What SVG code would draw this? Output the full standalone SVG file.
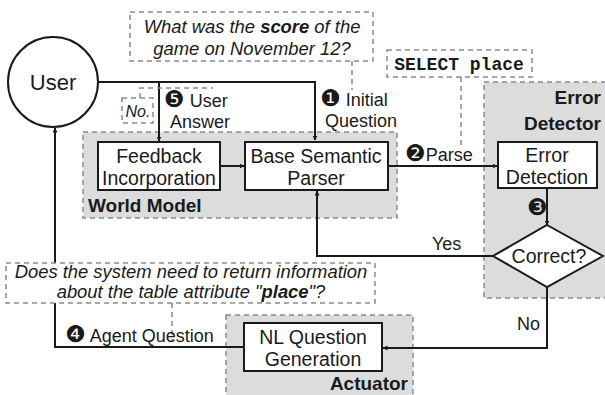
<svg xmlns="http://www.w3.org/2000/svg" width="605" height="395" viewBox="0 0 605 395">
<defs>
<marker id="ah" viewBox="0 0 10 10" refX="9" refY="5" markerWidth="5" markerHeight="5" orient="auto" markerUnits="userSpaceOnUse">
<path d="M0,0 L10,5 L0,10 z" fill="#1a1a1a"/>
</marker>
<style>
.region{fill:#dcdcdc;stroke:#8a8a8a;stroke-width:1.5;stroke-dasharray:5,4}
.note{fill:#fff;stroke:#8a8a8a;stroke-width:1.5;stroke-dasharray:5,4}
.dash{fill:none;stroke:#8a8a8a;stroke-width:1.5;stroke-dasharray:5,4}
.box{fill:#fff;stroke:#1a1a1a;stroke-width:2}
.conn{fill:none;stroke:#1a1a1a;stroke-width:2;marker-end:url(#ah)}
text{font-family:"Liberation Sans",Arial,sans-serif;fill:#1a1a1a}
.t{font-size:19.5px;text-anchor:middle}
.lbl{font-size:18px}
.bold{font-size:19px;font-weight:bold}
.it{font-size:18.4px;font-style:italic;text-anchor:middle}
.num{font-family:"DejaVu Sans",sans-serif;font-size:23px}
.mono{font-family:"Liberation Mono","Courier New",monospace;font-weight:bold;font-size:18px;text-anchor:middle}
</style>
</defs>

<g id="world-model">
<rect class="region" x="83" y="132" width="314" height="86"/>
<text class="bold" x="88" y="212">World Model</text>
</g>
<g id="error-detector">
<rect class="region" x="484" y="82" width="130" height="216"/>
<text class="bold" x="601" y="104" text-anchor="end">Error</text>
<text class="bold" x="601" y="130" text-anchor="end">Detector</text>
</g>
<g id="actuator">
<rect class="region" x="226" y="315" width="187" height="90"/>
<text class="bold" x="408" y="390" text-anchor="end">Actuator</text>
</g>

<g id="connectors">
<path class="conn" d="M98,82 H315 V140"/>
<path class="conn" d="M159,82 V141"/>
<path class="conn" d="M220,166 H244"/>
<path class="conn" d="M388,166 H497"/>
<path class="conn" d="M547,188 V225"/>
<path class="conn" d="M493,256 H317 V191"/>
<path class="conn" d="M547,287 V348 H383"/>
<path class="conn" d="M244,347 H55 V128"/>
<path class="dash" d="M352,61 V90"/>
<path class="dash" d="M461,77 V147"/>
<path class="dash" d="M172,303 V340"/>
<path class="dash" d="M140,98 V88 H213"/>
<text class="lbl" x="320" y="106"><tspan class="num">❶</tspan> Initial</text>
<text class="lbl" x="325" y="127">Question</text>
<text class="lbl" x="405" y="161"><tspan class="num">❷</tspan>Parse</text>
<text class="lbl num" x="527" y="215">❸</text>
<text class="lbl" x="65" y="342"><tspan class="num">❹</tspan> Agent Question</text>
<text class="lbl" x="164" y="107"><tspan class="num">❺</tspan> User</text>
<text class="lbl" x="170" y="128">Answer</text>
<text class="lbl" x="432" y="250">Yes</text>
<text class="lbl" x="517" y="330">No</text>
</g>

<g id="user">
<circle cx="53" cy="82" r="45" fill="#fff" stroke="#1a1a1a" stroke-width="2"/>
<text class="t" x="53" y="90" style="font-size:22px">User</text>
</g>

<g id="question-note">
<rect class="note" x="130" y="12" width="243" height="49"/>
<text class="it" x="252" y="33">What was the <tspan font-weight="bold">score</tspan> of the</text>
<text class="it" x="252" y="55">game on November 12?</text>
</g>

<g id="sql-note">
<rect class="note" x="387" y="50" width="145" height="27"/>
<text class="mono" x="459" y="70">SELECT place</text>
</g>

<g id="answer-note">
<rect class="note" x="122" y="98" width="31" height="25"/>
<text class="it" x="138" y="117" style="font-size:16px">No.</text>
</g>

<g id="feedback">
<rect class="box" x="98" y="142" width="122" height="48"/>
<text class="t" x="159" y="163">Feedback</text>
<text class="t" x="159" y="185">Incorporation</text>
</g>

<g id="parser">
<rect class="box" x="245" y="142" width="143" height="48"/>
<text class="t" x="316" y="163">Base Semantic</text>
<text class="t" x="316" y="185">Parser</text>
</g>

<g id="error-detection">
<rect class="box" x="498" y="142" width="99" height="46"/>
<text class="t" x="547" y="162">Error</text>
<text class="t" x="547" y="184">Detection</text>
</g>

<g id="correct">
<polygon class="box" points="547,225 603,256 547,287 493,256"/>
<text class="t" x="549" y="263">Correct?</text>
</g>

<g id="agent-note">
<rect class="note" x="6" y="263" width="369" height="40"/>
<text class="it" x="191" y="278">Does the system need to return information</text>
<text class="it" x="191" y="298">about the table attribute "<tspan font-weight="bold">place</tspan>"?</text>
</g>

<g id="nlqg">
<rect class="box" x="244" y="323" width="138" height="48"/>
<text class="t" x="313" y="344">NL Question</text>
<text class="t" x="313" y="366">Generation</text>
</g>
</svg>
